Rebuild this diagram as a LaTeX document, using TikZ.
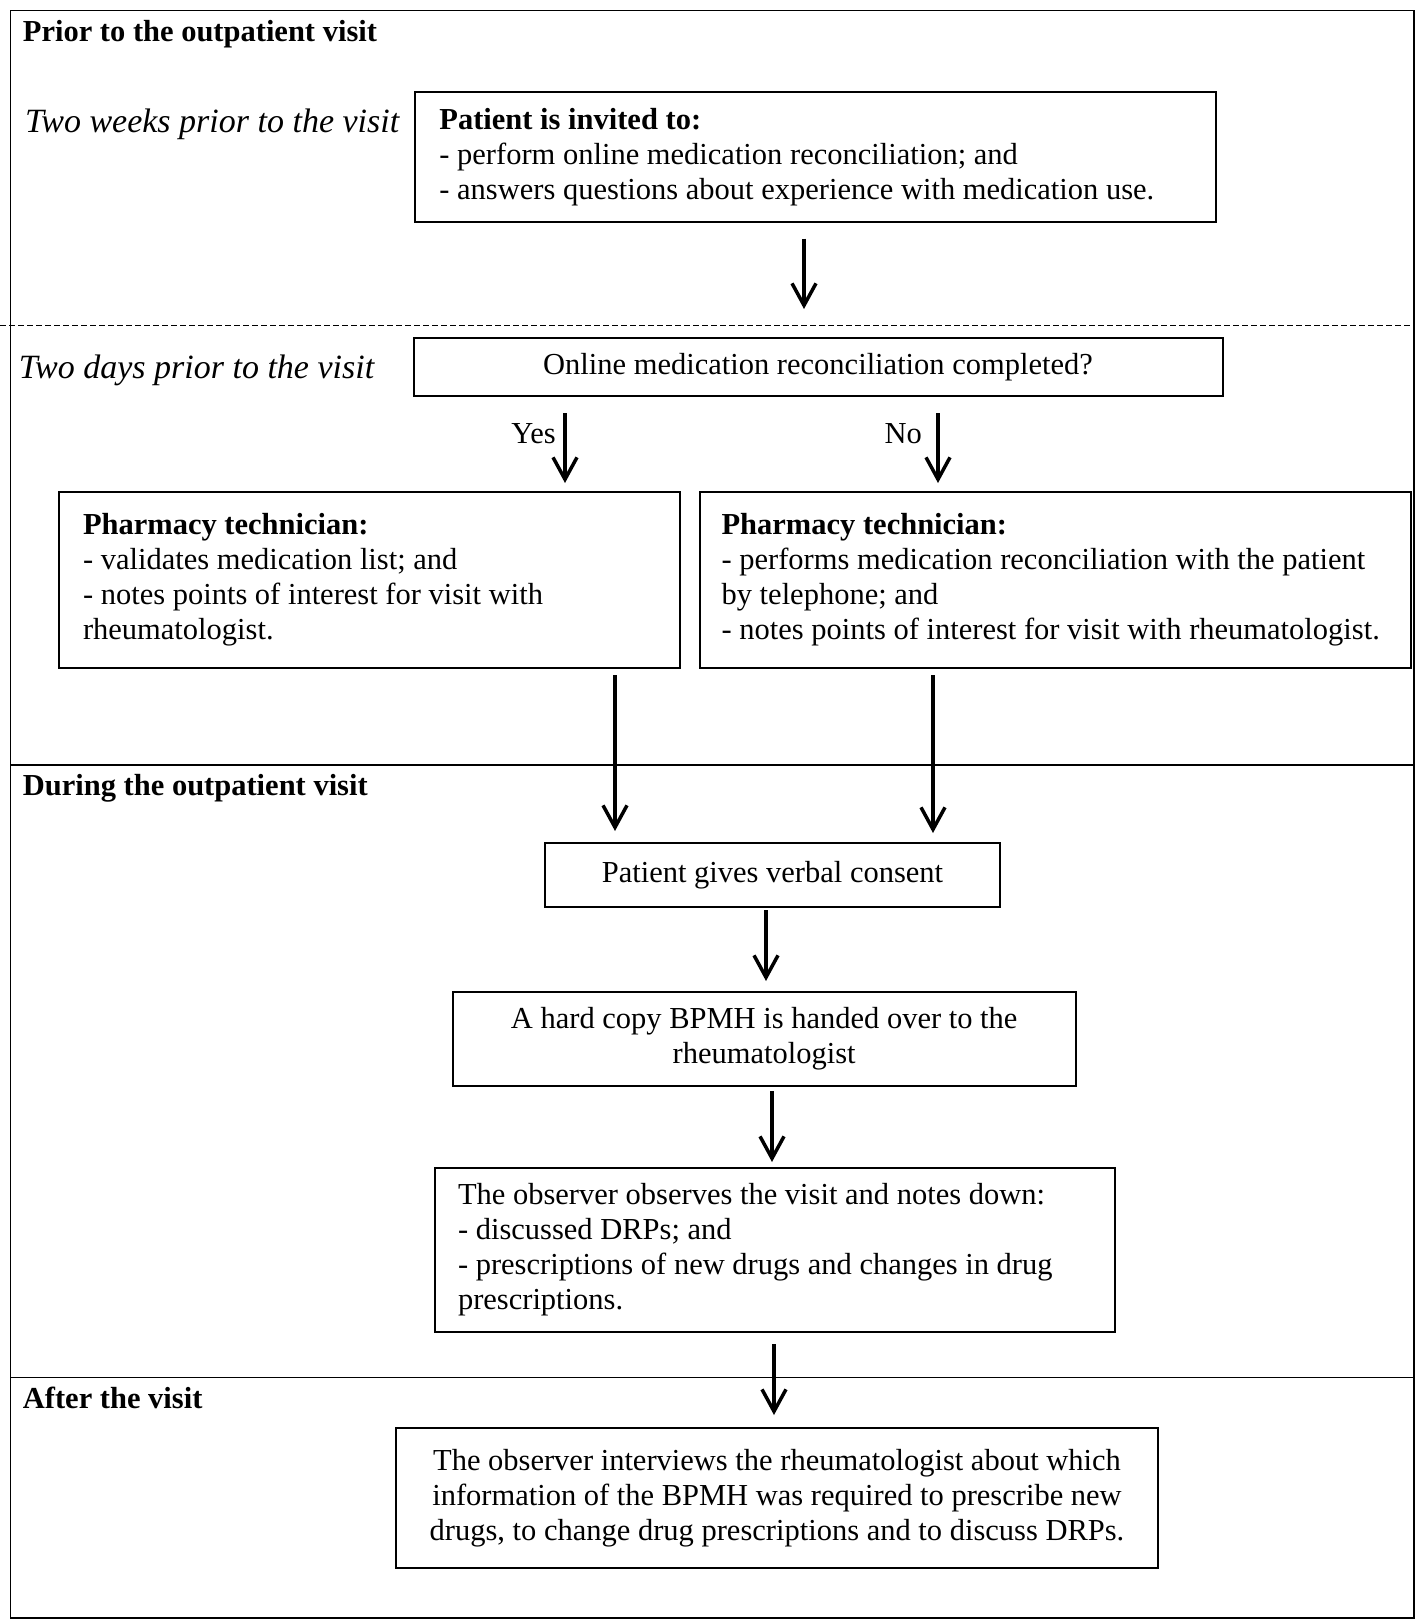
\documentclass[tikz,border=0pt]{standalone}
\usepackage{fontspec}
\setmainfont{Liberation Serif}
\usetikzlibrary{arrows.meta}
\begin{document}
\begin{tikzpicture}[x=1pt,y=-1pt,
  every node/.style={font=\fontsize{30.5}{35}\selectfont},
  box/.style={draw, line width=2pt, inner ysep=0pt},
  lbox/.style={box, align=flush left},
  cbox/.style={box, align=center},
  arr/.style={line width=3.5pt, -{Straight Barb[length=22pt,width=24pt,line width=3.5pt]}},
  frame/.style={line width=1.5pt},
  head/.style={anchor=west, inner sep=0pt, font=\fontsize{30.5}{35}\selectfont\bfseries},
  phase/.style={anchor=west, inner sep=0pt, font=\fontsize{34}{38}\selectfont\itshape},
  lab/.style={anchor=east, inner sep=0pt}]
\useasboundingbox (0,0) rectangle (1424,1620);
% frame and phase separators
\draw[frame] (10.3,10.3) rectangle (1414,1618);
\draw[frame, dash pattern=on 6pt off 3pt] (0,325.5) -- (1414,325.5);
\draw[frame] (10.3,765) -- (1414,765);
\draw[frame] (10.3,1377.5) -- (1414,1377.5);
% headings
\node[head] (h1) at (22.7,34) {Prior to the outpatient visit};
\node[head] (h2) at (22.7,788) {During the outpatient visit};
\node[head] (h3) at (22.7,1398) {After the visit};
\node[phase] (p1) at (24.8,124) {Two weeks prior to the visit};
\node[phase] (p2) at (18.6,370) {Two days prior to the visit};
% boxes
\node[lbox, inner xsep=24pt, text width=753pt, minimum height=130pt] (b1) at (815.9,157)
  {\textbf{Patient is invited to:}\\- perform online medication reconciliation; and\\- answers questions about experience with medication use.};
\node[cbox, minimum width=809pt, minimum height=58pt] (b2) at (818,367)
  {Online medication reconciliation completed?};
\node[lbox, inner xsep=24pt, text width=573pt, minimum height=176pt] (b3) at (369.5,580)
  {\textbf{Pharmacy technician:}\\- validates medication list; and\\- notes points of interest for visit with\\rheumatologist.};
\node[lbox, inner xsep=22pt, text width=667.4pt, minimum height=176pt] (b4) at (1055.3,580)
  {\textbf{Pharmacy technician:}\\\mbox{- performs medication reconciliation with the patient}\\by telephone; and\\\mbox{- notes points of interest for visit with rheumatologist.}};
\node[cbox, minimum width=455.7pt, minimum height=64pt] (b5) at (772.5,875)
  {Patient gives verbal consent};
\node[cbox, minimum width=623.2pt, minimum height=94pt] (b6) at (764.2,1039)
  {A hard copy BPMH is handed over to the\\rheumatologist};
\node[lbox, inner xsep=23pt, text width=634pt, minimum height=164pt] (b7) at (775,1250)
  {The observer observes the visit and notes down:\\- discussed DRPs; and\\- prescriptions of new drugs and changes in drug\\prescriptions.};
\node[cbox, minimum width=762pt, minimum height=140pt] (b8) at (777,1498)
  {The observer interviews the rheumatologist about which\\information of the BPMH was required to prescribe new\\drugs, to change drug prescriptions and to discuss DRPs.};
% arrow x positions
\coordinate (x1) at (804,0);
\coordinate (xy) at (565,0);
\coordinate (xn) at (938,0);
\coordinate (xl) at (615,0);
\coordinate (xr) at (933,0);
\coordinate (x5) at (766,0);
\coordinate (x6) at (772,0);
\coordinate (x7) at (774,0);
% arrows
\draw[arr, shorten <=15.7pt, shorten >=28pt] (b1.south -| x1) -- (b2.north -| x1);
\draw[arr, shorten <=16pt, shorten >=8pt] (b2.south -| xy) -- (b3.north -| xy);
\draw[arr, shorten <=16pt, shorten >=8pt] (b2.south -| xn) -- (b4.north -| xn);
\node[lab] (yes) at (556,434) {Yes};
\node[lab] (no) at (922,434) {No};
\draw[arr, shorten <=6pt, shorten >=11pt] (b3.south -| xl) -- (b5.north -| xl);
\draw[arr, shorten <=6pt, shorten >=9pt] (b4.south -| xr) -- (b5.north -| xr);
\draw[arr, shorten <=2pt, shorten >=10pt] (b5.south -| x5) -- (b6.north -| x5);
\draw[arr, shorten <=4pt, shorten >=5pt] (b6.south -| x6) -- (b7.north -| x6);
\draw[arr, shorten <=11pt, shorten >=12pt] (b7.south -| x7) -- (b8.north -| x7);
\end{tikzpicture}
\end{document}
